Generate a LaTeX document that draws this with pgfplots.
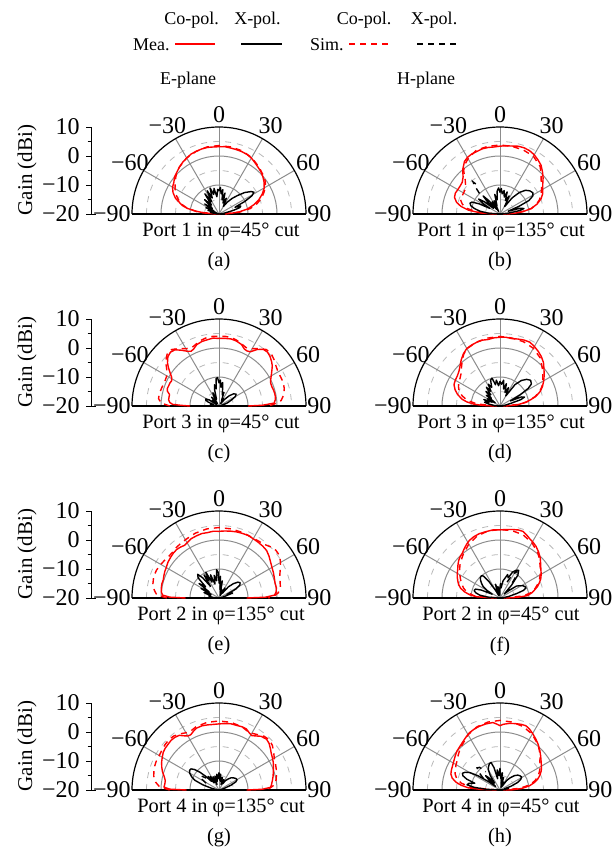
\documentclass[border=0pt]{standalone}
\usepackage{pgfplots}
\pgfplotsset{compat=1.18}
\usepackage{fontspec}
\setmainfont{Liberation Serif}
\definecolor{gridgray}{gray}{0.55}
\definecolor{gridlight}{gray}{0.72}
\newcommand\lfont{\fontsize{10.2}{12}\selectfont}
\newcommand\gfont{\fontsize{10.5}{12}\selectfont}
\newcommand\nfont{\fontsize{12}{14}\selectfont}
\newcommand\sfont{\fontsize{9}{11}\selectfont}
\pgfplotsset{
  table/pol/.style={row sep=\\,
    x expr={(max(\thisrow{g},-20)+20)*sin(\thisrow{t})},
    y expr={(max(\thisrow{g},-20)+20)*cos(\thisrow{t})}},
  mco/.style={red, line width=0.7pt, line join=round},
  sco/.style={red, line width=0.7pt, dash pattern=on 3pt off 2.5pt},
  mx/.style={black, line width=0.7pt, line join=round},
  sx/.style={black, line width=0.7pt, dash pattern=on 3pt off 2.5pt},
  pol axis/.style={x=1.45pt, y=1.45pt, xmin=-30, xmax=30, ymin=0, ymax=30,
    hide axis, clip=false, anchor=south},
}
\newcommand\polargrid{%
  \draw[gridlight, dashed, line width=0.4pt] (axis cs:-5,0) arc[start angle=180,end angle=0,radius=7.25pt];
  \draw[gridgray, line width=0.5pt] (axis cs:-10,0) arc[start angle=180,end angle=0,radius=14.5pt];
  \draw[gridlight, dashed, line width=0.4pt] (axis cs:-15,0) arc[start angle=180,end angle=0,radius=21.75pt];
  \draw[gridgray, line width=0.5pt] (axis cs:-20,0) arc[start angle=180,end angle=0,radius=29pt];
  \draw[gridlight, dashed, line width=0.4pt] (axis cs:-25,0) arc[start angle=180,end angle=0,radius=36.25pt];
  \draw[gridgray, line width=0.5pt] (axis cs:0,0) -- (axis cs:0,30);
  \draw[gridgray, line width=0.5pt] (axis cs:0,0) -- (axis cs:15,25.98);
  \draw[gridgray, line width=0.5pt] (axis cs:0,0) -- (axis cs:-15,25.98);
  \draw[gridgray, line width=0.5pt] (axis cs:0,0) -- (axis cs:25.98,15);
  \draw[gridgray, line width=0.5pt] (axis cs:0,0) -- (axis cs:-25.98,15);
  \draw[black, line width=0.6pt] (axis cs:-30,0) arc[start angle=180,end angle=0,radius=43.5pt];
  \draw[black, line width=0.6pt] (axis cs:-30,0) -- (axis cs:30,0);
  \node[font=\nfont] at (axis cs:0,34.3) {0};
  \node[font=\nfont] at (axis cs:17.8,30.6) {30};
  \node[font=\nfont] at (axis cs:-17.8,30.6) {−30};
  \node[font=\nfont] at (axis cs:30.7,17.6) {60};
  \node[font=\nfont] at (axis cs:-30.7,17.6) {−60};
  \node[font=\nfont, anchor=west, inner sep=0.5pt] at (axis cs:30,0) {90};
  \node[font=\nfont, anchor=east, inner sep=0.5pt] at (axis cs:-30,0) {−90};
}
\newcommand\gainaxis[1]{%
  \draw[line width=0.5pt] (91.5,#1-87) -- (91.5,#1);
  \draw[line width=0.5pt] (86,#1) -- (96,#1);
  \draw[line width=0.5pt] (86,#1-29) -- (91.5,#1-29);
  \draw[line width=0.5pt] (86,#1-58) -- (91.5,#1-58);
  \draw[line width=0.5pt] (86,#1-87) -- (91.5,#1-87);
  \draw[line width=0.5pt] (87.5,#1-14.5) -- (91.5,#1-14.5);
  \draw[line width=0.5pt] (87.5,#1-43.5) -- (91.5,#1-43.5);
  \draw[line width=0.5pt] (87.5,#1-72.5) -- (91.5,#1-72.5);
  \node[font=\nfont, anchor=east, inner sep=0pt] at (80,#1) {−20};
  \node[font=\nfont, anchor=east, inner sep=0pt] at (80,#1-29) {−10};
  \node[font=\nfont, anchor=east, inner sep=0pt] at (80,#1-58) {0};
  \node[font=\nfont, anchor=east, inner sep=0pt] at (80,#1-87) {10};
  \node[font=\gfont, rotate=90] at (27,#1-44) {Gain (dBi)};
}
\begin{document}
\sfont
\begin{tikzpicture}[x=0.5pt, y=-0.5pt]
\useasboundingbox (0,0) rectangle (611,852);
% legend
\node at (191.5,20) {Co-pol.};
\node at (257.5,20) {X-pol.};
\node at (364,20) {Co-pol.};
\node at (434,20) {X-pol.};
\node[anchor=east, inner sep=1pt] at (172,45) {Mea.};
\node[anchor=east, inner sep=1pt] at (346,45) {Sim.};
\draw[red, line width=0.8pt] (175,44) -- (215,44);
\draw[black, line width=0.8pt] (241,44) -- (282,44);
\draw[red, line width=0.8pt, dash pattern=on 3pt off 2.5pt] (349,44) -- (392,44);
\draw[black, line width=0.8pt, dash pattern=on 3pt off 2.5pt] (417,44) -- (460,44);
\node at (188,80) {E-plane};
\node at (426,80) {H-plane};
\gainaxis{214}
\gainaxis{406}
\gainaxis{598}
\gainaxis{790}
% ---------------- (a)
\begin{axis}[pol axis, at={(109.5pt,-107pt)}]
\polargrid
\addplot[sco] table[pol]{t g\\ -90 -20\\ -85 -13\\ -80 -9\\ -75 -6.5\\ -70 -5\\ -65 -3.5\\ -60 -2.5\\ -55 -1.5\\ -50 -0.5\\ -45 0.5\\ -40 1.2\\ -30 2.3\\ -20 3\\ -10 3.5\\ 0 3.6\\ 10 3.5\\ 20 3.2\\ 30 2.5\\ 40 1.3\\ 50 0.2\\ 55 -0.5\\ 60 -1.5\\ 65 -3\\ 70 -4.5\\ 75 -6.5\\ 80 -9\\ 85 -13\\ 90 -20\\};
\addplot[mco] table[pol]{t g\\ -90 -19\\ -86 -15\\ -83 -12\\ -80 -9\\ -77 -7\\ -73 -5.5\\ -70 -4\\ -65 -2.5\\ -60 -1.5\\ -55 -1\\ -50 0\\ -45 0.5\\ -40 1.2\\ -35 1.8\\ -30 2.3\\ -25 2.8\\ -20 3\\ -15 3.2\\ -10 3.3\\ -5 3.2\\ 0 3.2\\ 5 3.3\\ 10 3.1\\ 15 3.0\\ 20 2.9\\ 25 2.7\\ 30 2.3\\ 35 1.6\\ 40 1\\ 45 0.5\\ 50 -0.2\\ 55 -1\\ 60 -2\\ 65 -3.5\\ 70 -5.3\\ 75 -7.5\\ 80 -10\\ 84 -13\\ 87 -16\\ 90 -18\\};
\addplot[mx] table[pol]{t g\\ -90 -20\\ -85 -19\\ -80 -17\\ -76 -20\\ -72 -16\\ -68 -19\\ -64 -15\\ -60 -18\\ -55 -14\\ -50 -17\\ -45 -13\\ -40 -16\\ -35 -11.5\\ -31 -15\\ -27 -11\\ -23 -14\\ -19 -10.5\\ -15 -13\\ -11 -11\\ -7 -14\\ -3 -11.5\\ 0 -12\\ 3 -10.8\\ 6 -13\\ 9 -11.5\\ 12 -15\\ 16 -12.5\\ 20 -16\\ 25 -14\\ 30 -17\\ 35 -15\\ 40 -13\\ 45 -11\\ 50 -8.5\\ 55 -6.5\\ 58 -5.8\\ 61 -7\\ 64 -10\\ 67 -14\\ 70 -12\\ 73 -12.5\\ 76 -15\\ 80 -18\\ 85 -19\\ 90 -20\\};
\end{axis}
\node[font=\lfont] at (221,232) {Port 1 in φ=45° cut};
\node[font=\lfont] at (219,262) {(a)};
% ---------------- (b)
\begin{axis}[pol axis, at={(250pt,-107pt)}]
\polargrid
\addplot[sco] table[pol]{t g\\ -90 -18\\ -85 -12\\ -80 -8\\ -75 -6.5\\ -70 -5.5\\ -65 -5.5\\ -60 -5.5\\ -55 -5.3\\ -50 -4.5\\ -45 -3\\ -40 -0.5\\ -35 1\\ -30 2\\ -20 3.5\\ -10 3.7\\ 0 3.8\\ 10 3.7\\ 20 3.5\\ 30 3\\ 40 1.5\\ 45 0\\ 50 -1.5\\ 55 -2.5\\ 60 -3.5\\ 65 -4.5\\ 70 -5.5\\ 75 -7\\ 80 -9\\ 85 -13\\ 90 -18\\};
\addplot[mco] table[pol]{t g\\ -90 -19\\ -87 -13.4\\ -83 -9\\ -79 -6.3\\ -75 -4.5\\ -70 -3.3\\ -65 -3\\ -60 -3.2\\ -55 -3.2\\ -50 -3\\ -45 -2\\ -40 0\\ -34 1.9\\ -30 2.5\\ -25 2.9\\ -20 3\\ -15 3.3\\ -10 3.3\\ -5 3.2\\ 0 3.4\\ 5 3.6\\ 10 3.8\\ 15 4.2\\ 20 4.3\\ 25 4.1\\ 30 3.6\\ 35 2.8\\ 40 2\\ 45 0.7\\ 50 -0.6\\ 55 -2\\ 60 -3\\ 65 -3.8\\ 70 -5\\ 75 -6.8\\ 80 -9\\ 84 -12\\ 87 -15\\ 90 -19\\};
\addplot[mx] table[pol]{t g\\ -90 -20\\ -86 -16\\ -82 -13\\ -78 -11\\ -74 -9.5\\ -70 -9\\ -67 -9.5\\ -64 -12\\ -61 -16\\ -58 -13\\ -55 -11\\ -52 -13\\ -49 -17\\ -46 -14\\ -43 -11.5\\ -40 -14\\ -36 -18\\ -32 -15\\ -28 -19\\ -24 -15\\ -20 -17\\ -15 -13\\ -11 -15\\ -7 -12\\ -3 -11\\ 0 -12.5\\ 3 -11.2\\ 6 -13\\ 10 -11.8\\ 14 -14\\ 18 -12\\ 22 -15\\ 27 -13\\ 32 -17\\ 37 -13\\ 42 -10\\ 47 -8\\ 52 -7\\ 57 -6.5\\ 61 -7\\ 65 -9\\ 68 -13\\ 71 -17\\ 74 -13\\ 77 -11.5\\ 80 -13\\ 84 -17\\ 90 -20\\};
\addplot[sx] table[pol]{t g\\ -45 -10\\ -42 -7\\ -40 -5.5\\ -38 -7.5\\};
\end{axis}
\node[font=\lfont] at (501,232) {Port 1 in φ=135° cut};
\node[font=\lfont] at (500,262) {(b)};
% ---------------- (c)
\begin{axis}[pol axis, at={(109.5pt,-203pt)}]
\polargrid
\addplot[sco] table[pol]{t g\\ -90 -3\\ -87 0\\ -83 1\\ -78 1\\ -72 0.7\\ -66 0.5\\ -60 0.8\\ -55 2\\ -50 4\\ -45 5.3\\ -40 5.4\\ -35 4.2\\ -30 2.8\\ -25 2.2\\ -20 2.8\\ -15 3.5\\ -10 4\\ -5 4.1\\ 0 4\\ 5 4.1\\ 10 4\\ 15 3.5\\ 20 2.8\\ 25 2.2\\ 30 2.8\\ 35 4.2\\ 40 5.4\\ 45 5.5\\ 50 4.8\\ 55 4\\ 60 3.5\\ 65 3.5\\ 70 3.6\\ 75 3.3\\ 80 2.7\\ 85 1.5\\ 88 -1\\ 90 -3\\};
\addplot[mco] table[pol]{t g\\ -90 -10\\ -89 -7\\ -88 -4\\ -86 -3\\ -83 -2.5\\ -80 -2.5\\ -77 -2.5\\ -74 -1.5\\ -71 -1.2\\ -68 -1.3\\ -65 -1.3\\ -62 -1.5\\ -59 -1\\ -56 0.3\\ -53 1.8\\ -50 3.2\\ -46 4.5\\ -42 5\\ -38 4.6\\ -34 3.2\\ -30 1.8\\ -27 1.2\\ -24 1.5\\ -20 2.5\\ -15 3\\ -10 3.2\\ -5 3.5\\ 0 3.3\\ 5 3.4\\ 10 3.5\\ 15 3.2\\ 20 2.6\\ 24 1.5\\ 27 1.3\\ 30 1.6\\ 34 3.5\\ 38 4.8\\ 42 5\\ 46 4.5\\ 50 3.7\\ 53 3\\ 56 2\\ 60 0.8\\ 63 0\\ 66 -0.5\\ 70 -0.6\\ 74 -0.4\\ 78 -0.3\\ 81 -0.3\\ 84 -0.5\\ 87 -1\\ 89 -5\\ 90 -10\\};
\addplot[mx] table[pol]{t g\\ -90 -20\\ -85 -19\\ -80 -17\\ -75 -18\\ -70 -16\\ -66 -15\\ -62 -14.8\\ -58 -16\\ -54 -19\\ -50 -17\\ -45 -18.5\\ -40 -16\\ -35 -19\\ -30 -17\\ -25 -15\\ -20 -17.5\\ -15 -14\\ -12 -12.5\\ -9 -14\\ -6 -10.5\\ -3 -10.2\\ 0 -12\\ 3 -11\\ 6 -13.5\\ 9 -11.8\\ 12 -14\\ 16 -16\\ 20 -15\\ 25 -18\\ 30 -17\\ 35 -19\\ 40 -17\\ 45 -15\\ 50 -13.5\\ 55 -12.8\\ 60 -13.5\\ 65 -15.5\\ 70 -17\\ 75 -19\\ 80 -18\\ 85 -19.5\\ 90 -20\\};
\end{axis}
\node[font=\lfont] at (221,424) {Port 3 in φ=45° cut};
\node[font=\lfont] at (219,454) {(c)};
% ---------------- (d)
\begin{axis}[pol axis, at={(250pt,-203pt)}]
\polargrid
\addplot[sco] table[pol]{t g\\ -90 -19\\ -85 -12\\ -80 -8.5\\ -75 -6.5\\ -70 -5\\ -65 -4.2\\ -60 -3.6\\ -55 -3.2\\ -50 -2.5\\ -45 -1.2\\ -40 0.3\\ -35 1.8\\ -30 2.8\\ -20 3.5\\ -10 3.8\\ 0 4\\ 10 3.8\\ 20 3.6\\ 30 3\\ 40 1.6\\ 50 -0.8\\ 55 -2\\ 60 -3\\ 65 -4\\ 70 -5.5\\ 75 -7.5\\ 80 -10\\ 85 -13\\ 90 -19\\};
\addplot[mco] table[pol]{t g\\ -90 -18\\ -88 -14\\ -86 -11\\ -83 -8.5\\ -80 -6.8\\ -75 -4.9\\ -70 -3.5\\ -65 -2.5\\ -60 -2.2\\ -55 -2\\ -50 -1.5\\ -45 -0.5\\ -40 0.8\\ -35 2\\ -30 2.9\\ -25 3.2\\ -20 3.4\\ -15 3.5\\ -10 3.3\\ -5 3.6\\ 0 3.7\\ 5 3.8\\ 10 3.6\\ 15 3.9\\ 20 4.2\\ 25 4.3\\ 30 3.7\\ 35 3\\ 40 2.2\\ 45 1.2\\ 50 -0.2\\ 55 -1.4\\ 60 -2.6\\ 65 -3.8\\ 70 -5.2\\ 75 -7.2\\ 78 -9\\ 82 -11\\ 86 -14\\ 90 -18\\};
\addplot[mx] table[pol]{t g\\ -90 -20\\ -85 -18\\ -80 -16\\ -76 -14.5\\ -72 -16\\ -68 -14\\ -64 -17\\ -60 -15\\ -56 -18\\ -52 -14\\ -48 -16\\ -44 -13\\ -40 -15\\ -36 -12\\ -32 -14\\ -28 -11.5\\ -24 -13\\ -20 -10.5\\ -16 -10\\ -12 -12.5\\ -8 -11\\ -4 -13\\ 0 -11.5\\ 4 -12.5\\ 8 -11\\ 12 -14\\ 16 -12\\ 20 -15\\ 25 -13\\ 30 -16\\ 35 -11\\ 40 -8.5\\ 45 -7\\ 50 -6.2\\ 55 -6.8\\ 58 -8.5\\ 61 -12\\ 64 -16\\ 67 -12\\ 70 -11\\ 73 -12.5\\ 76 -16\\ 80 -18\\ 85 -19\\ 90 -20\\};
\end{axis}
\node[font=\lfont] at (501,424) {Port 3 in φ=135° cut};
\node[font=\lfont] at (500,454) {(d)};
% ---------------- (e)
\begin{axis}[pol axis, at={(109.5pt,-299pt)}]
\polargrid
\addplot[sco] table[pol]{t g\\ -90 -2\\ -87 1.5\\ -83 2.5\\ -78 3.3\\ -72 3.7\\ -66 3.6\\ -60 3.2\\ -55 2.8\\ -50 2.5\\ -45 2.5\\ -40 2.8\\ -35 3\\ -30 3.2\\ -20 3.8\\ -10 4.2\\ 0 4.3\\ 10 4.2\\ 20 4\\ 30 3.8\\ 40 4.2\\ 45 5\\ 50 5.6\\ 55 5.5\\ 60 4.5\\ 65 3.3\\ 70 2.3\\ 75 1.8\\ 80 1.5\\ 85 0.5\\ 88 -1\\ 90 -3\\};
\addplot[mco] table[pol]{t g\\ -90 -8.5\\ -89 -3\\ -87 -0.5\\ -84 0\\ -80 0.2\\ -76 0.3\\ -72 0.2\\ -68 0.5\\ -64 0.8\\ -60 1\\ -55 1.5\\ -50 1.8\\ -45 2.1\\ -41 2.2\\ -37 2\\ -33 1.7\\ -30 2\\ -25 2.6\\ -20 2.8\\ -15 3\\ -10 2.9\\ -5 3.1\\ 0 3\\ 5 3.2\\ 10 3.4\\ 15 3.6\\ 20 3.7\\ 25 3.8\\ 30 3.6\\ 35 3.5\\ 40 3.4\\ 45 3.2\\ 50 2.5\\ 55 1.7\\ 60 1.1\\ 65 0.7\\ 70 0.3\\ 75 0\\ 80 0.1\\ 84 -0.2\\ 87 -0.8\\ 89 -4\\ 90 -10.5\\};
\addplot[mx] table[pol]{t g\\ -90 -20\\ -85 -18\\ -80 -16.5\\ -75 -17\\ -70 -14.5\\ -66 -17\\ -62 -13\\ -58 -16\\ -54 -11.5\\ -50 -14\\ -46 -10\\ -42 -9\\ -39 -11\\ -36 -15\\ -33 -10.5\\ -30 -13\\ -27 -10\\ -24 -14\\ -20 -11.5\\ -16 -15\\ -12 -12\\ -8 -14\\ -5 -10.2\\ -2 -11\\ 1 -15\\ 4 -12.5\\ 7 -17\\ 11 -14\\ 15 -18\\ 20 -17\\ 25 -19\\ 30 -16\\ 35 -18\\ 40 -15\\ 45 -13\\ 50 -11.5\\ 54 -11\\ 58 -11.5\\ 62 -13.5\\ 66 -17\\ 70 -15\\ 74 -18\\ 80 -19\\ 90 -20\\};
\end{axis}
\node[font=\lfont] at (221,616) {Port 2 in φ=135° cut};
\node[font=\lfont] at (219,646) {(e)};
% ---------------- (f)
\begin{axis}[pol axis, at={(250pt,-299pt)}]
\polargrid
\addplot[sco] table[pol]{t g\\ -90 -19\\ -85 -11\\ -80 -8.5\\ -75 -7\\ -70 -6\\ -65 -5\\ -60 -4\\ -55 -3\\ -50 -2\\ -45 -1.2\\ -40 -0.3\\ -30 1.5\\ -20 2.8\\ -10 3.5\\ 0 3.6\\ 10 3.6\\ 20 3.2\\ 30 2\\ 40 0.3\\ 45 -0.8\\ 50 -2\\ 55 -3\\ 60 -4\\ 65 -5\\ 70 -6.2\\ 75 -7.5\\ 80 -9\\ 85 -12\\ 90 -19\\};
\addplot[mco] table[pol]{t g\\ -90 -18\\ -87 -12\\ -84 -9.5\\ -80 -7.5\\ -76 -6\\ -72 -5\\ -68 -4.3\\ -64 -3.6\\ -60 -3\\ -56 -2.4\\ -52 -1.6\\ -48 -0.8\\ -44 -0.2\\ -40 0.2\\ -36 1\\ -32 1.8\\ -28 2.5\\ -23 3\\ -18 3.3\\ -12 3.4\\ -6 3.6\\ 0 3.5\\ 5 3.7\\ 10 4\\ 15 4.3\\ 19 4.3\\ 23 3.6\\ 27 2.8\\ 31 2.3\\ 35 1.7\\ 40 0.7\\ 45 -0.4\\ 50 -1.7\\ 55 -2.8\\ 60 -3.6\\ 65 -4.5\\ 69 -5.5\\ 73 -6.5\\ 77 -7.8\\ 81 -9\\ 85 -10.5\\ 88 -14\\ 90 -18\\};
\addplot[mx] table[pol]{t g\\ -90 -20\\ -86 -16\\ -82 -13\\ -78 -11.5\\ -74 -10.7\\ -70 -11\\ -67 -13\\ -64 -17\\ -60 -15\\ -56 -13\\ -52 -12\\ -48 -11\\ -44 -10.2\\ -40 -10\\ -37 -10.5\\ -34 -13\\ -30 -17\\ -26 -19\\ -22 -17\\ -18 -15\\ -14 -18\\ -10 -16\\ -6 -19\\ -2 -17\\ 2 -15\\ 6 -16.5\\ 10 -14\\ 14 -13\\ 18 -11.5\\ 22 -12.5\\ 26 -10\\ 30 -9\\ 34 -8.5\\ 38 -10\\ 42 -14\\ 46 -18\\ 50 -16\\ 54 -13\\ 58 -12\\ 62 -11\\ 66 -10.5\\ 69 -10.4\\ 72 -11.5\\ 75 -14\\ 80 -17\\ 85 -19\\ 90 -20\\};
\addplot[sx] table[pol]{t g\\ 24 -14\\ 28 -11\\ 32 -9\\ 36 -10\\ 40 -14\\};
\end{axis}
\node[font=\lfont] at (501,616) {Port 2 in φ=45° cut};
\node[font=\lfont] at (500,646) {(f)};
% ---------------- (g)
\begin{axis}[pol axis, at={(109.5pt,-395pt)}]
\polargrid
\addplot[sco] table[pol]{t g\\ -90 -3\\ -87 0.5\\ -83 2\\ -78 3\\ -72 3.6\\ -66 3.8\\ -60 3.8\\ -55 4\\ -50 4.3\\ -45 4.5\\ -40 4.3\\ -35 3.6\\ -30 2.8\\ -25 2.6\\ -20 3.2\\ -10 3.7\\ 0 3.8\\ 10 3.7\\ 20 3.2\\ 25 2.6\\ 30 2.6\\ 35 3.3\\ 40 4.2\\ 45 4.5\\ 50 4\\ 55 3\\ 60 2\\ 65 1.5\\ 70 1\\ 75 0.5\\ 80 0\\ 85 -1\\ 88 -2.5\\ 90 -4\\};
\addplot[mco] table[pol]{t g\\ -90 -8.8\\ -89 -3\\ -87 -1\\ -84 -1.2\\ -80 -1.2\\ -76 -0.5\\ -72 0.5\\ -68 1.3\\ -64 2\\ -60 2.6\\ -56 3.2\\ -52 3.5\\ -48 3.6\\ -44 3.8\\ -40 3.7\\ -36 3.3\\ -33 2.3\\ -30 1.5\\ -27 1.4\\ -24 2\\ -20 2.7\\ -15 2.9\\ -10 2.8\\ -5 2.7\\ 0 2.8\\ 5 3\\ 10 3.2\\ 15 3.1\\ 20 3.2\\ 24 3.1\\ 28 2.3\\ 31 1.9\\ 34 2.5\\ 38 3.5\\ 43 4\\ 47 3.6\\ 51 2.8\\ 55 2\\ 59 1.5\\ 63 1\\ 67 0.4\\ 72 -0.3\\ 76 -0.8\\ 80 -1.3\\ 84 -1.8\\ 87 -2.2\\ 89 -5\\ 90 -10.5\\};
\addplot[mx] table[pol]{t g\\ -90 -20\\ -82 -19\\ -76 -17\\ -72 -14\\ -68 -11\\ -64 -9.5\\ -60 -8.3\\ -56 -7.8\\ -53 -7.9\\ -50 -9\\ -47 -11\\ -44 -13.5\\ -41 -16\\ -38 -14\\ -35 -17\\ -32 -14.5\\ -28 -17\\ -24 -15\\ -20 -18\\ -16 -15\\ -12 -17\\ -8 -14.5\\ -4 -16\\ 0 -14\\ 3 -16.5\\ 6 -14.5\\ 10 -17\\ 15 -15.5\\ 20 -18\\ 25 -16\\ 30 -17.5\\ 35 -16\\ 40 -15\\ 45 -14\\ 50 -13.5\\ 55 -13\\ 60 -12.8\\ 64 -13.5\\ 68 -15.5\\ 72 -18\\ 78 -19\\ 90 -20\\};
\addplot[sx] table[pol]{t g\\ -62 -15\\ -57 -12.5\\ -52 -12\\ -47 -14\\};
\end{axis}
\node[font=\lfont] at (221,808) {Port 4 in φ=135° cut};
\node[font=\lfont] at (219,838) {(g)};
% ---------------- (h)
\begin{axis}[pol axis, at={(250pt,-395pt)}]
\polargrid
\addplot[sco] table[pol]{t g\\ -90 -19\\ -85 -10\\ -80 -6.5\\ -75 -4.5\\ -70 -3.5\\ -65 -3\\ -60 -2.5\\ -55 -2\\ -50 -1.2\\ -45 -0.4\\ -40 0.3\\ -30 2\\ -20 3.2\\ -10 3.8\\ 0 4\\ 10 3.8\\ 20 3.3\\ 30 2.2\\ 40 0.4\\ 45 -0.8\\ 50 -2\\ 55 -3.2\\ 60 -4\\ 65 -5\\ 70 -6\\ 75 -7.5\\ 80 -9.5\\ 85 -13\\ 90 -19\\};
\addplot[mco] table[pol]{t g\\ -90 -19\\ -88 -13\\ -86 -9\\ -83 -6.5\\ -80 -4.6\\ -76 -3\\ -72 -2.2\\ -68 -1.9\\ -64 -1.7\\ -60 -1.4\\ -56 -1\\ -52 -0.5\\ -48 0\\ -44 0.3\\ -40 0.7\\ -36 1.2\\ -32 1.8\\ -28 2.4\\ -23 2.8\\ -18 3.1\\ -12 3.3\\ -6 3.4\\ -3 2.8\\ 0 2.2\\ 3 2.7\\ 8 3.2\\ 13 3.5\\ 18 3.8\\ 22 3.9\\ 26 3.3\\ 30 2.5\\ 35 1.5\\ 40 0.5\\ 45 -0.6\\ 50 -1.7\\ 55 -2.7\\ 60 -3.5\\ 65 -4.3\\ 70 -5.4\\ 74 -6.5\\ 78 -8\\ 82 -9.8\\ 86 -12.5\\ 89 -15.6\\ 90 -18\\};
\addplot[mx] table[pol]{t g\\ -90 -20\\ -87 -15\\ -84 -11\\ -81 -8.5\\ -78 -9\\ -75 -11\\ -72 -8\\ -69 -6.3\\ -66 -5.8\\ -63 -6.5\\ -60 -8\\ -57 -11\\ -54 -15\\ -51 -18\\ -48 -15\\ -45 -13\\ -42 -14.5\\ -38 -17\\ -34 -14\\ -30 -12\\ -26 -11\\ -22 -10.2\\ -18 -10\\ -15 -12\\ -12 -16\\ -8 -13\\ -4 -15\\ 0 -12.5\\ 4 -16\\ 8 -14\\ 12 -18\\ 16 -15.5\\ 20 -19\\ 25 -17\\ 30 -18.5\\ 35 -16\\ 40 -14.5\\ 45 -13\\ 50 -12\\ 55 -11.5\\ 59 -11.3\\ 63 -12\\ 67 -13.5\\ 71 -16\\ 75 -18.5\\ 80 -17\\ 85 -19\\ 90 -20\\};
\addplot[sx] table[pol]{t g\\ -55 -13\\ -50 -10.5\\ -46 -9\\ -42 -9.5\\ -38 -12\\};
\end{axis}
\node[font=\lfont] at (501,808) {Port 4 in φ=45° cut};
\node[font=\lfont] at (500,838) {(h)};
\end{tikzpicture}
\end{document}
